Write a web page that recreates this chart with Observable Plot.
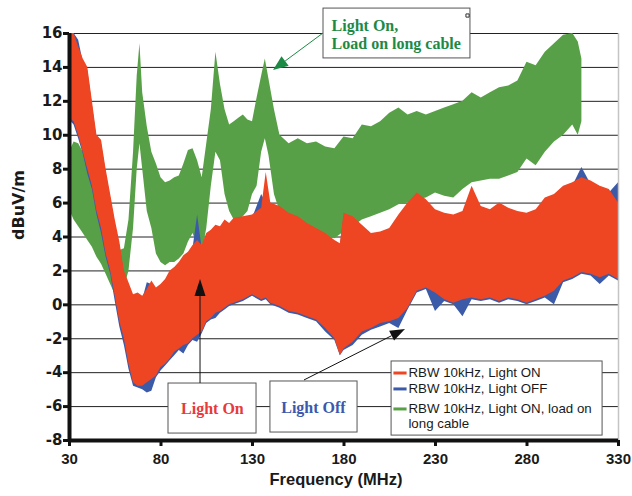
<!DOCTYPE html>
<html><head><meta charset="utf-8">
<script src="https://cdn.jsdelivr.net/npm/d3@7"></script>
<script src="https://cdn.jsdelivr.net/npm/@observablehq/plot@0.6"></script>
<style>body{margin:0;background:#fff}</style>
</head><body><div id="chart"></div>
<script>
const freqRB = [30,32.5,35,37.5,40,42.5,45,47.5,50,52.5,55,57.5,60,62.5,65,67.5,70,72.5,75,77.5,80,82.5,85,87.5,90,92.5,95,97.5,100,102.5,105,107.5,110,112.5,115,117.5,120,125,130,135,137.5,140,145,150,155,160,165,170,175,178,180,185,190,195,200,205,210,215,220,225,230,235,240,245,250,255,260,265,270,275,280,285,290,295,300,305,310,315,320,325,330];
const redLo = [11.0,10.8,10.0,9.0,8.0,7.0,5.5,4.5,3.0,2.0,0.5,-1.0,-2.0,-3.5,-4.6,-4.8,-4.8,-4.6,-4.4,-4.2,-3.7,-3.5,-3.2,-2.8,-2.6,-2.4,-2.3,-2.0,-1.8,-1.6,-1.0,-0.8,-0.5,-0.4,-0.2,0.0,0.1,0.3,0.6,0.3,0.4,0.1,-0.1,-0.4,-0.5,-0.7,-0.9,-1.4,-2.0,-3.0,-2.6,-2.2,-1.6,-1.4,-1.1,-1.0,-0.8,-0.2,0.8,1.0,0.7,0.3,0.1,0.3,0.4,0.3,0.4,0.2,0.4,0.3,0.1,0.3,0.5,0.8,1.4,1.6,1.9,1.8,1.6,1.8,1.5];
const redHi = [16.0,16.0,15.2,14.5,14.0,12.0,10.0,9.7,8.0,6.5,5.0,3.7,2.0,1.3,0.6,0.7,0.5,0.9,1.4,1.0,1.2,1.5,2.0,2.2,2.5,2.9,3.1,3.5,3.8,3.5,4.2,4.4,4.7,4.6,5.0,4.8,5.1,5.2,5.3,5.7,7.8,6.0,5.8,5.4,5.2,4.8,4.5,4.2,3.8,3.6,5.4,5.2,4.7,4.2,4.3,4.5,5.3,6.0,6.6,6.2,5.6,5.4,5.3,5.5,7.0,5.8,5.6,6.0,5.7,5.5,5.4,5.6,6.3,6.5,7.0,7.2,7.5,7.3,7.0,6.8,6.0];
const blueLo = [10.9,10.6,9.8,8.9,7.7,6.8,5.3,4.2,2.8,1.8,0.2,-1.3,-2.4,-3.8,-4.8,-4.9,-5.0,-5.2,-5.1,-4.3,-3.9,-3.6,-3.3,-3.0,-2.7,-2.9,-2.4,-2.1,-2.2,-1.7,-1.1,-0.9,-0.8,-0.5,-0.3,-0.1,0.0,0.2,0.5,0.2,0.3,0.0,-0.2,-0.5,-0.6,-0.8,-1.0,-1.6,-2.1,-3.0,-2.7,-2.4,-1.8,-1.5,-1.3,-1.1,-1.4,-0.3,0.7,0.9,-0.4,0.2,0.0,-0.7,0.3,0.2,0.3,0.1,0.3,0.2,0.0,0.2,0.4,0.0,1.3,1.5,1.8,1.7,1.2,1.7,1.4];
const blueHi = [16.0,16.0,15.6,14.3,13.8,11.8,9.8,9.5,7.8,6.3,4.8,3.5,1.8,1.1,0.5,0.5,0.3,1.3,1.2,0.8,1.0,1.3,1.8,2.0,2.3,2.7,2.9,3.3,5.3,3.3,4.0,4.2,4.5,4.4,4.8,4.6,4.9,5.0,5.1,6.5,6.0,5.8,5.6,5.2,5.0,4.6,4.3,4.0,3.6,3.4,5.2,5.0,4.5,4.0,4.1,4.3,5.1,5.8,6.4,6.0,5.4,5.2,5.1,5.3,6.8,5.6,5.4,5.8,5.5,5.3,5.2,5.4,6.1,6.3,6.8,7.0,8.1,7.1,6.8,6.6,7.2];
const freqG = [30,32.5,35,37.5,40,42.5,45,47.5,50,52.5,55,57.5,60,62.5,65,67,68.5,70,72.5,75,77.5,80,82.5,85,87.5,90,92.5,95,97.5,100,102.5,105,107.5,110,112.5,115,117.5,120,122.5,125,127.5,130,132.5,135,137,139,142,145,150,155,160,165,170,175,180,185,190,195,200,205,210,215,220,225,230,235,240,245,250,255,260,265,270,275,280,285,290,295,300,305,308,310];
const greenLo = [5.6,5.0,4.6,4.2,3.8,3.4,2.8,2.4,1.8,1.2,0.6,0.6,1.0,2.0,4.5,8.0,9.5,8.0,5.5,4.5,3.0,2.5,2.3,2.5,2.5,2.7,3.0,3.7,4.2,3.5,3.0,4.5,7.0,9.0,8.5,6.5,5.5,5.0,5.0,5.2,5.5,6.5,7.0,9.0,9.8,8.8,6.5,5.5,5.0,4.8,4.5,4.3,4.0,3.9,4.3,4.6,5.0,5.2,5.4,5.6,5.9,6.0,6.2,6.3,6.6,6.4,6.3,6.8,7.2,7.3,7.4,7.4,7.6,7.8,8.6,8.2,9.0,9.6,10.0,10.6,10.0,10.8];
const greenHi = [9.0,9.6,9.5,9.0,8.5,8.0,7.6,8.3,6.8,5.6,4.2,3.2,3.3,5.0,9.0,13.5,15.4,12.5,10.5,9.0,8.3,7.5,7.2,7.3,7.5,7.6,8.3,9.1,9.2,8.5,7.5,9.5,11.5,14.9,13.0,11.5,10.6,10.8,11.0,11.2,10.9,10.8,12.2,13.5,14.5,13.3,11.5,10.0,9.5,9.8,9.5,9.6,9.3,9.2,9.9,9.8,10.6,10.5,10.8,11.3,11.6,11.2,11.4,11.2,11.4,11.6,11.8,12.0,12.5,12.2,12.5,12.8,12.9,13.2,14.3,14.1,14.9,15.4,15.9,16.0,15.5,14.5];
const xTicks = [30,80,130,180,230,280,330];
const yTicks = [-8,-6,-4,-2,0,2,4,6,8,10,12,14,16];
const seriesNames = ["RBW 10kHz, Light ON", "RBW 10kHz, Light OFF", "RBW 10kHz, Light ON, load on\nlong cable"];
const xLabel = "Frequency (MHz)";
const yLabel = "dBuV/m";

// ---- styles ----
const C = {red: "#ee4523", blue: "#3b5ba9", green: "#58a047",
           redText: "#e8393c", blueText: "#3b58ae", greenText: "#1c8a45"};
const serif = "'Liberation Serif', 'Times New Roman', serif";

const red = freqRB.map((f, i) => ({f, lo: redLo[i], hi: redHi[i]}));
const blue = freqRB.map((f, i) => ({f, lo: blueLo[i], hi: blueHi[i]}));
const green = freqG.map((f, i) => ({f, lo: greenLo[i], hi: greenHi[i]}));

// annotation geometry (data coordinates)
const boxes = [
  {x1: 168.8, x2: 249.1, y1: 17.47, y2: 14.53},
  {x1: 84.1, x2: 132.2, y1: -4.64, y2: -7.59},
  {x1: 139.8, x2: 187.4, y1: -4.52, y2: -7.53},
  {x1: 206.0, x2: 321.3, y1: -3.34, y2: -7.71}
];
const greenNote = [{x: 173.2, y: 15.94, text: "Light On,\nLoad on long cable"}];
const notes = [
  {x: 108.1, y: -6.11, text: "Light On", color: C.redText},
  {x: 163.3, y: -6.05, text: "Light Off", color: C.blueText}
];
const arrows = [
  {x1: 168.8, y1: 16.0, x2: 141.5, y2: 13.82, color: C.greenText, len: 15, w: 6},
  {x1: 101.6, y1: -4.64, x2: 101.6, y2: 1.49, color: "#111", len: 17, w: 5.5},
  {x1: 158.4, y1: -4.46, x2: 213.6, y2: -1.45, color: "#111", len: 15, w: 5.5}
];
const legendRows = [
  {y: -3.64, name: seriesNames[0], color: C.red},
  {y: -4.58, name: seriesNames[1], color: C.blue},
  {y: -5.76, name: seriesNames[2], color: C.green}
];

function arrowMark(index, scales) {
  const g = d3.create("svg:g");
  for (const a of arrows) {
    const sx = scales.x(a.x1), sy = scales.y(a.y1), tx = scales.x(a.x2), ty = scales.y(a.y2);
    const dx = tx - sx, dy = ty - sy, L = Math.hypot(dx, dy);
    const ux = dx / L, uy = dy / L, nx = -uy, ny = ux;
    const bx = tx - ux * a.len, by = ty - uy * a.len;
    g.append("line").attr("x1", sx).attr("y1", sy).attr("x2", bx).attr("y2", by)
      .attr("stroke", a.color).attr("stroke-width", 1);
    g.append("path")
      .attr("d", `M${tx},${ty}L${bx + nx * a.w},${by + ny * a.w}L${bx - nx * a.w},${by - ny * a.w}Z`)
      .attr("fill", a.color);
  }
  return g.node();
}

const chart = Plot.plot({
  width: 632, height: 496,
  marginLeft: 69, marginRight: 14, marginTop: 33, marginBottom: 56,
  x: {domain: [30, 330]},
  y: {domain: [-8, 16]},
  style: {fontFamily: "'Liberation Sans', Arial, sans-serif", fontSize: "15px", fontWeight: "bold", color: "#1a1a1a", background: "#fff", overflow: "visible"},
  marks: [
    Plot.gridY(yTicks, {stroke: "#222", strokeOpacity: 1, strokeWidth: 1}),
    Plot.areaY(green, {x: "f", y1: "lo", y2: "hi", fill: C.green}),
    Plot.areaY(blue, {x: "f", y1: "lo", y2: "hi", fill: C.blue}),
    Plot.areaY(red, {x: "f", y1: "lo", y2: "hi", fill: C.red}),
    Plot.ruleX([330], {stroke: "#c4c4c4", strokeWidth: 1.5}),
    Plot.rect(boxes, {x1: "x1", x2: "x2", y1: "y1", y2: "y2", fill: "white", stroke: "#555", strokeWidth: 1}),
    Plot.dot([{x: 247.5, y: 17.06}], {x: "x", y: "y", symbol: "square", r: 1.8, stroke: "#333", strokeWidth: 1}),
    Plot.text(greenNote, {x: "x", y: "y", text: "text", fill: C.greenText, textAnchor: "start",
      fontFamily: serif, fontSize: 16, fontWeight: "bold", lineHeight: 1.1}),
    Plot.text(notes, {x: "x", y: "y", text: "text", fill: "color", textAnchor: "middle",
      fontFamily: serif, fontSize: 16, fontWeight: "bold"}),
    arrowMark,
    Plot.link(legendRows, {x1: 207.0, x2: 214.2, y1: d => d.y - 0.38, y2: d => d.y - 0.38, stroke: "color", strokeWidth: 3}),
    Plot.text(legendRows, {x: 215.2, y: "y", text: "name", textAnchor: "start", lineAnchor: "top",
      fontSize: 13.3, fontWeight: "normal", fill: "#1a1a1a", lineHeight: 1.13}),
    Plot.axisY(yTicks, {tickSize: 6, tickPadding: 1, strokeWidth: 3, stroke: "#111", label: null, tickFormat: d => String(d),
      fontFamily: "'DejaVu Sans', sans-serif", fontSize: 15}),
    Plot.axisX(xTicks, {tickSize: 6, tickPadding: 7, strokeWidth: 3, stroke: "#111", label: null, tickFormat: d => String(d), fontSize: 15}),
    Plot.ruleX([30], {stroke: "#111", strokeWidth: 4}),
    Plot.ruleY([-8], {stroke: "#111", strokeWidth: 4}),
    Plot.text([yLabel], {frameAnchor: "left", dx: -51, dy: 3, rotate: -90, fontSize: 16, fontFamily: "'DejaVu Sans', sans-serif"}),
    Plot.text([xLabel], {frameAnchor: "bottom", dy: 44, dx: -8, fontSize: 16.5})
  ]
});
document.getElementById("chart").appendChild(chart);
</script>
</body></html>
